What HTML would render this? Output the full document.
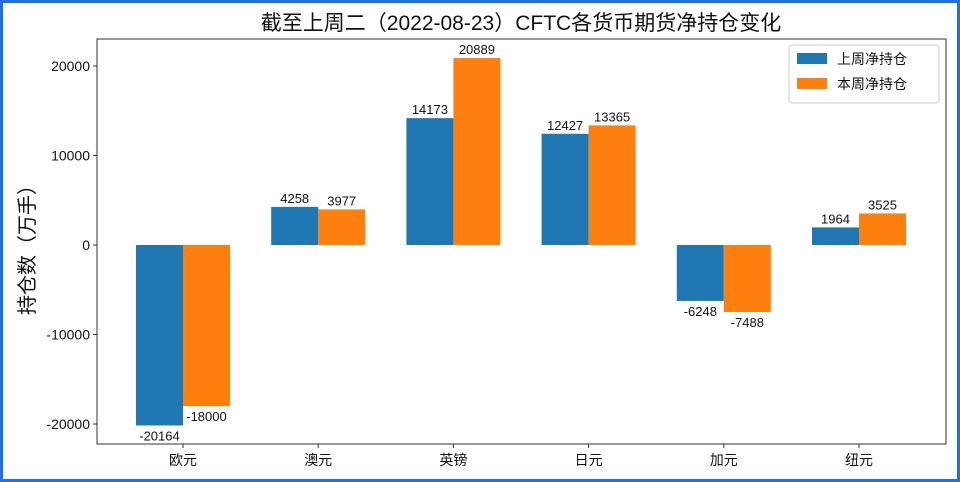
<!DOCTYPE html>
<html><head><meta charset="utf-8"><style>
body{margin:0;background:#fff}
#wrap{position:relative;width:960px;height:482px;box-sizing:border-box;border:3px solid #1f6fe5;background:#fff}
svg{position:absolute;left:-3px;top:-3px}
text{font-family:"Liberation Sans","Noto Sans CJK SC",sans-serif;fill:#111}
</style></head><body>
<div id="wrap">
<svg id="chart" width="960" height="482"></svg>
</div>
<script>
const categories=["欧元","澳元","英镑","日元","加元","纽元"];
const lastWeek=[-20164,4258,14173,12427,-6248,1964];
const thisWeek=[-18000,3977,20889,13365,-7488,3525];
const yTicks=[-20000,-10000,0,10000,20000];
const seriesNames=["上周净持仓","本周净持仓"];
const colors=["#1f77b4","#ff7f0e"];
const NS="http://www.w3.org/2000/svg";
const svg=document.getElementById('chart');
const L=97,R=946,T=39,B=444;
function y(v){return 245-v*(179/20000);}
function xc(i){return 183+i*135.2;}
const bw=47;
function mk(tag,attrs,txt){const e=document.createElementNS(NS,tag);for(const k in attrs)e.setAttribute(k,attrs[k]);if(txt!==undefined)e.textContent=txt;svg.appendChild(e);return e;}
let t=mk('text',{x:521,y:30,'text-anchor':'middle','font-size':21},'截至上周二（2022-08-23）CFTC各货币期货净持仓变化');


[lastWeek,thisWeek].forEach((s,si)=>{
 s.forEach((v,i)=>{
  const x0=xc(i)-bw+si*bw;
  const r=mk('rect',{x:x0,y:Math.min(y(v),y(0)),width:bw,height:Math.abs(y(v)-y(0)),fill:colors[si]});
  
  
  const ly=v>=0?y(v)-4:y(v)+15;
  const lt=mk('text',{x:x0+bw/2,y:ly,'text-anchor':'middle','font-size':13},String(v));
  
  
 });
});
const ax=mk('rect',{x:L,y:T,width:R-L,height:B-T,fill:'none',stroke:'#333','stroke-width':1});


yTicks.forEach(v=>{
 mk('line',{x1:L-4,x2:L,y1:y(v),y2:y(v),stroke:'#333'});
 const tt=mk('text',{x:L-7,y:y(v)+5,'text-anchor':'end','font-size':14},String(v));
 
 
});
categories.forEach((c,i)=>{
 mk('line',{x1:xc(i),x2:xc(i),y1:B,y2:B+4,stroke:'#333'});
 const tt=mk('text',{x:xc(i),y:B+21,'text-anchor':'middle','font-size':14},c);
 
 
});
const yt=mk('text',{x:34,y:245,'text-anchor':'middle','font-size':20,transform:'rotate(-90 34 245)'},'持仓数（万手）');


const lg=mk('rect',{x:789,y:45,width:150,height:58,fill:'#fff',stroke:'#ccc',rx:3});


seriesNames.forEach((n,i)=>{
 mk('rect',{x:797,y:53+i*25,width:30,height:11,fill:colors[i]});
 const lt=mk('text',{x:837,y:64+i*25,'font-size':14},n);
 
 
});
</script>
</body></html>
